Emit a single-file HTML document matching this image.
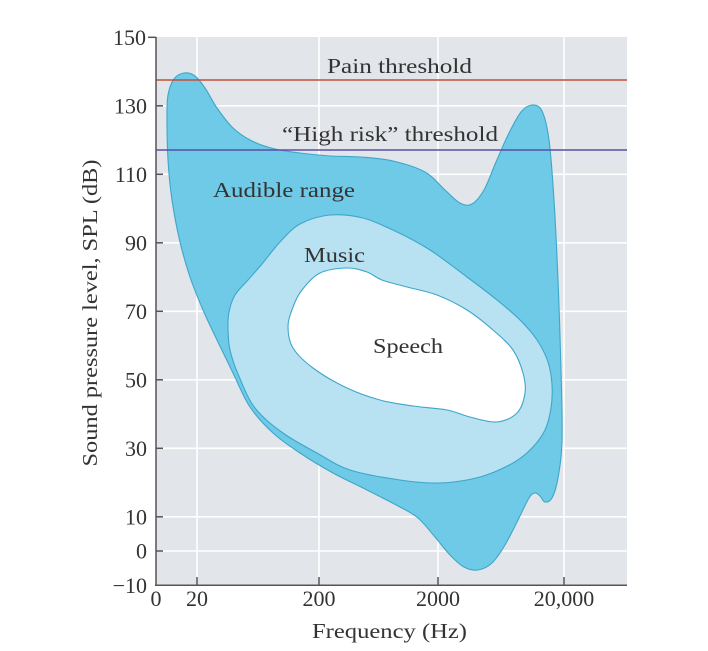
<!DOCTYPE html>
<html><head><meta charset="utf-8"><style>
html,body{margin:0;padding:0;background:#fff;}
svg{display:block;}
text{font-family:"Liberation Serif",serif;fill:#333;}
</style></head><body>
<svg width="708" height="651" viewBox="0 0 708 651" xmlns="http://www.w3.org/2000/svg">
<rect x="0" y="0" width="708" height="651" fill="#fff"/>
<rect x="156" y="37" width="471" height="548" fill="#e2e5e9"/>
<g stroke="#ffffff" stroke-width="1.6">
<line x1="156" y1="105.8" x2="627" y2="105.8"/>
<line x1="156" y1="174.3" x2="627" y2="174.3"/>
<line x1="156" y1="242.8" x2="627" y2="242.8"/>
<line x1="156" y1="311.3" x2="627" y2="311.3"/>
<line x1="156" y1="379.8" x2="627" y2="379.8"/>
<line x1="156" y1="448.3" x2="627" y2="448.3"/>
<line x1="156" y1="516.8" x2="627" y2="516.8"/>
<line x1="156" y1="551" x2="627" y2="551"/>
<line x1="197" y1="37" x2="197" y2="585"/>
<line x1="319" y1="37" x2="319" y2="585"/>
<line x1="438" y1="37" x2="438" y2="585"/>
<line x1="564" y1="37" x2="564" y2="585"/>
</g>
<path id="A" fill="#6ecae6" stroke="#3ea6c9" stroke-width="1.1" d="M167,118 L168,95 174,79 184,73 195,76 205,88 217,108 233,128 252,141 275,149 300,153 330,156 360,157 393,161 425,172 445,190 460,203 472,204 484,190 496,162 509,133 521,112 532,105 542,111 549,140 554,200 558,280 561,370 562,440 558,478 552,498 545,502 540,496 535,493 529,498 518,520 505,545 492,563 478,570 464,567 450,555 435,537 418,518 400,507 367,490 333,473 300,453 273,433 250,407 233,373 217,340 203,310 190,277 180,242 172,200 168,160 Z"/>
<path id="M" fill="#b8e2f2" stroke="#3ea6c9" stroke-width="1.1" d="M228,330 L229,312 235,295 248,280 262,264 280,242 300,224 330,215 363,218 397,232 430,250 467,277 497,300 520,320 537,340 548,362 552,385 551,408 545,430 532,448 513,463 480,477 440,483 400,480 350,470 317,453 283,433 255,408 238,374 230,350 Z"/>
<path id="S" fill="#ffffff" stroke="#3ea6c9" stroke-width="1.1" d="M288,327 L293,307 302,290 320,273 347,268 367,272 382,280 407,287 437,295 467,310 493,330 513,350 523,373 525,393 517,413 497,422 470,417 447,410 413,406 380,400 347,388 313,368 293,348 Z"/>
<line x1="156" y1="80" x2="627" y2="80" stroke="#c0503a" stroke-width="1.5"/>
<line x1="156" y1="150" x2="627" y2="150" stroke="#5a4ea6" stroke-width="1.5"/>
<g stroke="#555" stroke-width="1.5">
<line x1="156" y1="37" x2="156" y2="586"/>
<line x1="155" y1="585.3" x2="627" y2="585.3"/>
<line x1="148" y1="37.3" x2="156" y2="37.3"/>
<line x1="156" y1="105.8" x2="163" y2="105.8"/>
<line x1="156" y1="174.3" x2="163" y2="174.3"/>
<line x1="156" y1="242.8" x2="163" y2="242.8"/>
<line x1="156" y1="311.3" x2="163" y2="311.3"/>
<line x1="156" y1="379.8" x2="163" y2="379.8"/>
<line x1="156" y1="448.3" x2="163" y2="448.3"/>
<line x1="156" y1="516.8" x2="163" y2="516.8"/>
<line x1="156" y1="551" x2="163" y2="551"/>
<line x1="197" y1="577" x2="197" y2="585"/>
<line x1="319" y1="577" x2="319" y2="585"/>
<line x1="438" y1="577" x2="438" y2="585"/>
<line x1="564" y1="577" x2="564" y2="585"/>
</g>
<g font-size="22" text-anchor="end">
<text x="146" y="45">150</text>
<text x="147" y="113.5">130</text>
<text x="147" y="182">110</text>
<text x="147" y="250.5">90</text>
<text x="147" y="319">70</text>
<text x="147" y="387.5">50</text>
<text x="147" y="456">30</text>
<text x="147" y="524.5">10</text>
<text x="147" y="558.7">0</text>
<text x="147" y="593">−10</text>
</g>
<g font-size="22" text-anchor="middle">
<text x="156" y="606">0</text>
<text x="197" y="606">20</text>
<text x="319" y="606">200</text>
<text x="438" y="606">2000</text>
<text x="564" y="606">20,000</text>
</g>
<g font-size="21.5">
<text x="327" y="73" textLength="145" lengthAdjust="spacingAndGlyphs">Pain threshold</text>
<text x="282" y="141" textLength="216" lengthAdjust="spacingAndGlyphs">“High risk” threshold</text>
<text x="213" y="197" textLength="142" lengthAdjust="spacingAndGlyphs">Audible range</text>
<text x="304" y="262" textLength="61" lengthAdjust="spacingAndGlyphs">Music</text>
<text x="373" y="353" textLength="70" lengthAdjust="spacingAndGlyphs">Speech</text>
<text x="312" y="638" textLength="155" lengthAdjust="spacingAndGlyphs">Frequency (Hz)</text>
<text transform="translate(97,313) rotate(-90)" x="-153.5" y="0" textLength="307" lengthAdjust="spacingAndGlyphs">Sound pressure level, SPL (dB)</text>
</g>
</svg>
<script>
function smooth(id){var p=document.getElementById(id);var n=p.getAttribute('d').match(/-?\d+(\.\d+)?/g).map(Number);var pts=[];for(var i=0;i+1<n.length;i+=2)pts.push([n[i],n[i+1]]);var L=pts.length;var d='M'+pts[0][0]+','+pts[0][1];for(var i=0;i<L;i++){var p0=pts[(i-1+L)%L],p1=pts[i],p2=pts[(i+1)%L],p3=pts[(i+2)%L];var c1x=p1[0]+(p2[0]-p0[0])/6,c1y=p1[1]+(p2[1]-p0[1])/6,c2x=p2[0]-(p3[0]-p1[0])/6,c2y=p2[1]-(p3[1]-p1[1])/6;d+='C'+c1x.toFixed(1)+','+c1y.toFixed(1)+' '+c2x.toFixed(1)+','+c2y.toFixed(1)+' '+p2[0]+','+p2[1];}p.setAttribute('d',d+'Z');}
try{smooth('A');smooth('M');smooth('S');}catch(e){}
</script>
</body></html>
